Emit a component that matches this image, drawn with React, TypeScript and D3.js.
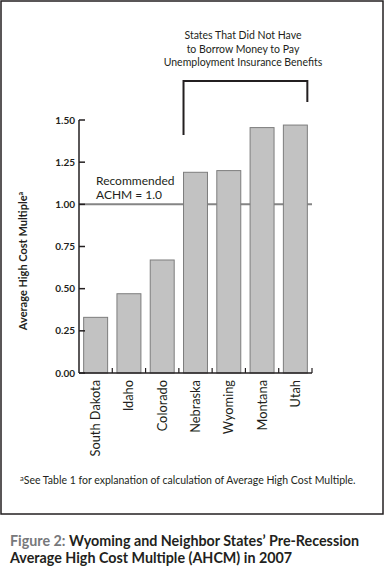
import { useEffect, useRef } from 'react';
import * as d3 from 'd3';

const states = ['South Dakota', 'Idaho', 'Colorado', 'Nebraska', 'Wyoming', 'Montana', 'Utah'];
const ahcm = [0.33, 0.47, 0.67, 1.19, 1.2, 1.455, 1.47];
const yTicks = [0, 0.25, 0.5, 0.75, 1.0, 1.25, 1.5];
const recommended = 1.0;
const bracketStates = ['Nebraska', 'Utah'];
const bracketLines = [
  'States That Did Not Have',
  'to Borrow Money to Pay',
  'Unemployment Insurance Benefits',
];

const FONT = 'Lato, "Open Sans", sans-serif';

export default function App() {
  const svgRef = useRef<SVGSVGElement>(null);

  useEffect(() => {
    if (!svgRef.current) return;
    const svg = d3.select(svgRef.current);
    svg.selectAll('*').remove();

    const width = 385;
    const height = 586;
    const left = 79;
    const right = 312;
    const top = 120;
    const bottom = 373;

    // outer frame
    svg
      .append('rect')
      .attr('x', 1)
      .attr('y', 1)
      .attr('width', 382)
      .attr('height', 513)
      .attr('fill', 'white')
      .attr('stroke', '#231f20')
      .attr('stroke-width', 1.5);

    const x = d3.scaleBand<string>().domain(states).range([left, right]).padding(0);
    const y = d3.scaleLinear().domain([0, 1.5]).range([bottom, top]);
    const barW = x.bandwidth() * 0.72;
    const barOff = (x.bandwidth() - barW) / 2;

    // reference line
    svg
      .append('line')
      .attr('x1', left)
      .attr('x2', right)
      .attr('y1', y(recommended))
      .attr('y2', y(recommended))
      .attr('stroke', '#858585')
      .attr('stroke-width', 2);

    // bars
    svg
      .append('g')
      .selectAll('rect')
      .data(states)
      .enter()
      .append('rect')
      .attr('x', (d) => (x(d) ?? 0) + barOff)
      .attr('width', barW)
      .attr('y', (_, i) => y(ahcm[i]))
      .attr('height', (_, i) => y(0) - y(ahcm[i]))
      .attr('fill', '#c2c2c2')
      .attr('stroke', '#7d7d7d')
      .attr('stroke-width', 1);

    // y axis
    const yAxis = svg.append('g');
    yAxis
      .append('line')
      .attr('x1', left)
      .attr('x2', left)
      .attr('y1', top)
      .attr('y2', bottom)
      .attr('stroke', '#231f20')
      .attr('stroke-width', 1.5);
    yTicks.forEach((t) => {
      yAxis
        .append('line')
        .attr('x1', left)
        .attr('x2', left + 6)
        .attr('y1', y(t))
        .attr('y2', y(t))
        .attr('stroke', '#231f20')
        .attr('stroke-width', 1.5);
      yAxis
        .append('text')
        .attr('x', left - 4)
        .attr('y', y(t) + 3.5)
        .attr('text-anchor', 'end')
        .attr('font-family', FONT)
        .attr('font-size', 10)
        .attr('font-weight', 700)
        .attr('fill', '#231f20')
        .text(d3.format('.2f')(t));
    });

    // x axis
    const xAxis = svg.append('g');
    xAxis
      .append('line')
      .attr('x1', left)
      .attr('x2', right)
      .attr('y1', bottom)
      .attr('y2', bottom)
      .attr('stroke', '#231f20')
      .attr('stroke-width', 1.5);
    states.forEach((s) => {
      const bx = (x(s) ?? 0) + x.bandwidth();
      xAxis
        .append('line')
        .attr('x1', bx)
        .attr('x2', bx)
        .attr('y1', bottom)
        .attr('y2', bottom - 5)
        .attr('stroke', '#231f20')
        .attr('stroke-width', 1.2);
      const cx = (x(s) ?? 0) + x.bandwidth() / 2 + 4.5;
      xAxis
        .append('text')
        .attr('transform', `translate(${cx}, 380) rotate(-90)`)
        .attr('text-anchor', 'end')
        .attr('font-family', FONT)
        .attr('font-size', 12.8)
        .attr('fill', '#231f20')
        .text(s);
    });

    // y axis title
    svg
      .append('text')
      .attr('transform', `translate(27, 261) rotate(-90)`)
      .attr('text-anchor', 'middle')
      .attr('font-family', FONT)
      .attr('font-size', 11)
      .attr('font-weight', 700)
      .attr('fill', '#231f20')
      .text('Average High Cost Multiple')
      .append('tspan')
      .attr('font-size', 7)
      .attr('dy', -4)
      .text('a');

    // recommended label
    const rec = svg
      .append('text')
      .attr('font-family', FONT)
      .attr('font-size', 12)
      .attr('fill', '#231f20');
    rec.append('tspan').attr('x', 96).attr('y', y(recommended) - 19).text('Recommended');
    rec.append('tspan').attr('x', 96).attr('y', y(recommended) - 5).text('ACHM = 1.0');

    // bracket
    const bx1 = (x(bracketStates[0]) ?? 0) + barOff;
    const bx2 = (x(bracketStates[1]) ?? 0) + barOff + barW;
    svg
      .append('path')
      .attr('d', `M${bx1},135 V81 H${bx2} V102`)
      .attr('fill', 'none')
      .attr('stroke', '#231f20')
      .attr('stroke-width', 2);

    const cxTitle = 243;
    bracketLines.forEach((line, i) => {
      svg
        .append('text')
        .attr('x', cxTitle)
        .attr('y', 39 + i * 13.5)
        .attr('text-anchor', 'middle')
        .attr('font-family', FONT)
        .attr('font-size', 10.5)
        .attr('fill', '#231f20')
        .text(line);
    });

    // footnote
    const fn = svg
      .append('text')
      .attr('x', 20)
      .attr('y', 484)
      .attr('font-family', FONT)
      .attr('font-size', 10.5)
      .attr('fill', '#231f20');
    fn.append('tspan').attr('font-size', 7.5).attr('dy', -3).text('a');
    fn.append('tspan')
      .attr('dy', 3)
      .text('See Table 1 for explanation of calculation of Average High Cost Multiple.');

    // caption
    const cap1 = svg
      .append('text')
      .attr('x', 10)
      .attr('y', 546)
      .attr('font-family', FONT)
      .attr('font-size', 14.3)
      .attr('font-weight', 700);
    cap1.append('tspan').attr('fill', '#77787b').text('Figure 2: ');
    cap1.append('tspan').attr('fill', '#231f20').text('Wyoming and Neighbor States\u2019 Pre-Recession');
    svg
      .append('text')
      .attr('x', 10)
      .attr('y', 563)
      .attr('font-family', FONT)
      .attr('font-size', 14.3)
      .attr('font-weight', 700)
      .attr('fill', '#231f20')
      .text('Average High Cost Multiple (AHCM) in 2007');

    svg.attr('width', width).attr('height', height);
  }, []);

  return (
    <svg
      ref={svgRef}
      width={385}
      height={586}
      style={{ position: 'absolute', left: 0, top: 0, background: 'white' }}
    />
  );
}
